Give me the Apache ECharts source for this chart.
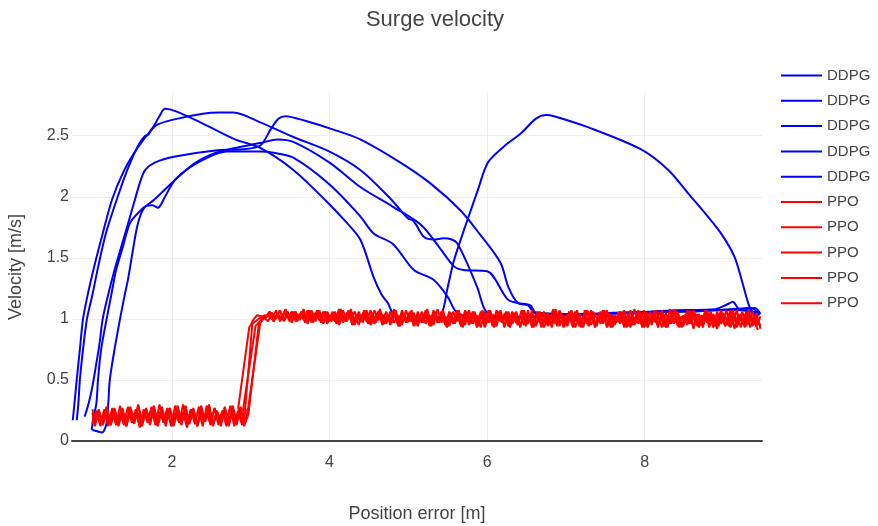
<!DOCTYPE html>
<html>
<head>
<meta charset="utf-8">
<title>Surge velocity</title>
<script src="https://cdn.jsdelivr.net/npm/echarts@6/dist/echarts.min.js"></script>
<style>
  html, body { margin: 0; padding: 0; background: #fff; }
  #chart { width: 878px; height: 526px; }
</style>
</head>
<body>
<div id="chart"></div>
<script>
// DDPG runs, [position error, velocity]
const ddpg1 = [[0.74,0.17],[0.76,0.30],[0.79,0.50],[0.83,0.75],[0.87,1.00],[0.93,1.20],[1.02,1.45],[1.12,1.70],[1.24,1.98],[1.38,2.20],[1.52,2.36],[1.64,2.47],[1.75,2.56],[1.84,2.66],[1.91,2.72],[2.05,2.70],[2.36,2.61],[2.80,2.47],[3.12,2.40],[3.54,2.22],[3.95,1.97],[4.20,1.80],[4.39,1.65],[4.56,1.34],[4.66,1.20],[4.74,1.13],[4.80,1.05],[4.90,1.00],[5.20,0.98],[5.41,1.03],[5.50,1.26],[5.58,1.48],[5.75,1.81],[5.88,2.05],[6.01,2.28],[6.21,2.41],[6.43,2.52],[6.62,2.64],[6.75,2.67],[6.85,2.66],[7.28,2.57],[7.95,2.39],[8.30,2.22],[8.55,2.03],[8.80,1.84],[8.97,1.70],[9.14,1.51],[9.24,1.30],[9.33,1.10],[9.40,1.03]];
const ddpg2 = [[0.79,0.17],[0.81,0.30],[0.83,0.50],[0.87,0.75],[0.92,1.00],[0.99,1.20],[1.06,1.42],[1.16,1.70],[1.31,2.00],[1.45,2.25],[1.58,2.43],[1.66,2.50],[1.70,2.51],[1.74,2.55],[1.81,2.59],[2.00,2.63],[2.39,2.68],[2.60,2.69],[2.78,2.69],[3.12,2.61],[3.54,2.49],[4.00,2.37],[4.39,2.22],[4.75,2.00],[5.00,1.82],[5.05,1.81],[5.10,1.77],[5.20,1.67],[5.32,1.65],[5.45,1.66],[5.55,1.65],[5.62,1.62],[5.75,1.45],[5.88,1.25],[6.00,1.05],[6.30,1.01],[7.00,1.03],[7.80,1.05],[8.60,1.06],[9.10,1.08],[9.35,1.09],[9.46,1.03]];
const ddpg3 = [[0.89,0.20],[0.92,0.26],[0.95,0.33],[0.99,0.45],[1.03,0.60],[1.08,0.80],[1.12,1.00],[1.19,1.20],[1.27,1.40],[1.36,1.60],[1.45,1.80],[1.53,1.98],[1.60,2.13],[1.66,2.22],[1.78,2.28],[2.04,2.33],[2.55,2.38],[2.90,2.39],[3.12,2.42],[3.25,2.55],[3.35,2.64],[3.44,2.66],[3.70,2.62],[4.05,2.55],[4.39,2.47],[4.90,2.28],[5.28,2.11],[5.66,1.89],[5.90,1.70],[6.17,1.46],[6.27,1.26],[6.39,1.13],[6.52,1.11],[6.60,1.05],[7.00,1.03],[7.60,1.05],[8.20,1.06],[8.80,1.07],[9.20,1.08],[9.40,1.09],[9.47,1.04]];
const ddpg4 = [[0.98,0.09],[1.00,0.18],[1.04,0.31],[1.06,0.50],[1.10,0.75],[1.17,1.00],[1.23,1.20],[1.29,1.40],[1.38,1.60],[1.47,1.79],[1.62,1.90],[1.78,1.98],[2.04,2.14],[2.30,2.28],[2.55,2.36],[2.80,2.40],[3.12,2.44],[3.34,2.47],[3.54,2.45],[4.00,2.28],[4.39,2.08],[4.80,1.92],[5.16,1.77],[5.40,1.58],[5.58,1.43],[5.70,1.40],[6.00,1.39],[6.26,1.16],[6.39,1.13],[6.55,1.11],[6.62,1.05],[7.20,1.04],[7.80,1.05],[8.40,1.07],[8.90,1.08],[9.05,1.12],[9.12,1.14],[9.20,1.08],[9.45,1.05]];
const ddpg5 = [[0.99,0.09],[1.05,0.08],[1.11,0.07],[1.17,0.15],[1.19,0.30],[1.21,0.50],[1.27,0.75],[1.34,1.00],[1.40,1.20],[1.44,1.32],[1.50,1.55],[1.57,1.79],[1.66,1.92],[1.75,1.93],[1.82,1.91],[1.91,2.00],[2.04,2.14],[2.30,2.27],[2.70,2.37],[3.12,2.37],[3.29,2.36],[3.54,2.32],[4.00,2.10],[4.39,1.84],[4.56,1.70],[4.81,1.61],[5.07,1.40],[5.32,1.32],[5.50,1.18],[5.62,1.05],[5.90,1.01],[6.50,1.02],[7.30,1.04],[8.00,1.05],[8.70,1.07],[9.30,1.07],[9.45,1.03]];

// PPO runs: two staggered sets of position error samples, then each run's velocities
const ppoHighXA = [
  9.47,9.42,9.37,9.32,9.27,9.22,9.17,9.12,9.07,9.02,8.97,8.92,8.87,8.82,8.77,8.72,8.67,8.62,8.57,8.52,
  8.47,8.42,8.37,8.32,8.27,8.22,8.17,8.12,8.07,8.02,7.97,7.92,7.87,7.82,7.77,7.72,7.67,7.62,7.57,7.52,
  7.47,7.42,7.37,7.32,7.27,7.22,7.17,7.12,7.07,7.02,6.97,6.92,6.87,6.82,6.77,6.72,6.67,6.62,6.57,6.52,
  6.47,6.42,6.37,6.32,6.27,6.22,6.17,6.12,6.07,6.02,5.97,5.92,5.87,5.82,5.77,5.72,5.67,5.62,5.57,5.52,
  5.47,5.42,5.37,5.32,5.27,5.22,5.17,5.12,5.07,5.02,4.97,4.92,4.87,4.82,4.77,4.72,4.67,4.62,4.57,4.52,
  4.47,4.42,4.37,4.32,4.27,4.22,4.17,4.12,4.07,4.02,3.97,3.92,3.87,3.82,3.77,3.72,3.67,3.62,3.57,3.52,
  3.47,3.42,3.37,3.32,3.27,3.22
];
const ppoHighXB = [
  9.44,9.39,9.34,9.29,9.24,9.19,9.14,9.09,9.04,8.99,8.94,8.89,8.84,8.79,8.74,8.69,8.64,8.59,8.54,8.49,
  8.44,8.39,8.34,8.29,8.24,8.19,8.14,8.09,8.04,7.99,7.94,7.89,7.84,7.79,7.74,7.69,7.64,7.59,7.54,7.49,
  7.44,7.39,7.34,7.29,7.24,7.19,7.14,7.09,7.04,6.99,6.94,6.89,6.84,6.79,6.74,6.69,6.64,6.59,6.54,6.49,
  6.44,6.39,6.34,6.29,6.24,6.19,6.14,6.09,6.04,5.99,5.94,5.89,5.84,5.79,5.74,5.69,5.64,5.59,5.54,5.49,
  5.44,5.39,5.34,5.29,5.24,5.19,5.14,5.09,5.04,4.99,4.94,4.89,4.84,4.79,4.74,4.69,4.64,4.59,4.54,4.49,
  4.44,4.39,4.34,4.29,4.24,4.19,4.14,4.09,4.04,3.99,3.94,3.89,3.84,3.79,3.74,3.69,3.64,3.59,3.54,3.49,
  3.44,3.39,3.34,3.29,3.24,3.19
];
const ppoLowXA = [
  2.92,2.87,2.82,2.77,2.72,2.67,2.62,2.57,2.52,2.47,2.42,2.37,2.32,2.27,2.22,2.17,2.12,2.07,2.02,1.97,
  1.92,1.87,1.82,1.77,1.72,1.67,1.62,1.57,1.52,1.47,1.42,1.37,1.32,1.27,1.22,1.17,1.12,1.07,1.02,0.99
];
const ppoLowXB = [
  2.94,2.89,2.84,2.79,2.74,2.69,2.64,2.59,2.54,2.49,2.44,2.39,2.34,2.29,2.24,2.19,2.14,2.09,2.04,1.99,
  1.94,1.89,1.84,1.79,1.74,1.69,1.64,1.59,1.54,1.49,1.44,1.39,1.34,1.29,1.24,1.19,1.14,1.09,1.04,0.99
];

const ppoHigh1 = [
  0.92,1.05,0.94,1.07,0.96,1.02,0.93,1.06,0.98,0.94,1.07,0.97,1.04,0.93,
  1.06,0.95,1.03,0.92,1.07,0.99,0.94,1.05,0.96,1.08,0.93,1.02,0.95,1.06,
  0.97,1.04,0.93,1.07,0.95,1.01,0.94,1.06,0.98,1.03,0.93,1.07,0.96,1.05,
  0.94,1.02,1.07,0.95,1.04,0.93,1.06,0.97,1.03,0.94,1.08,0.96,1.01,0.93,
  1.06,0.95,1.04,0.97,1.07,0.94,1.02,0.96,1.06,0.93,1.05,0.98,0.94,1.07,
  0.96,1.03,0.93,1.06,0.99,1.04,0.94,1.07,0.96,1.02,0.95,1.06,0.97,1.05,
  0.94,1.07,0.98,1.03,0.95,1.06,0.97,1.04,0.94,1.08,0.99,1.02,0.95,1.06,
  1.00,0.95,1.07,0.97,1.04,0.96,1.08,0.98,1.03,0.95,1.06,0.99,1.05,0.97,
  1.07,0.98,1.04,0.96,1.08,1.00,1.05,0.97,1.06,0.99,1.07,1.01,1.04,0.98
];
const ppoHigh2 = [
  0.95,1.03,0.93,1.06,0.97,1.04,0.92,1.07,0.99,1.05,0.94,1.02,0.96,1.07,
  0.93,1.04,0.98,1.06,0.95,1.03,0.93,1.08,0.96,1.01,0.94,1.06,0.97,1.04,
  0.93,1.07,0.99,1.02,0.95,1.05,0.93,1.06,0.97,1.03,0.94,1.07,0.96,1.02,
  1.06,0.94,1.04,0.97,1.07,0.93,1.03,0.96,1.05,0.94,1.08,0.98,1.02,0.95,
  1.06,0.93,1.04,0.97,1.07,0.95,1.01,0.94,1.06,0.98,1.03,0.93,1.07,0.96,
  1.04,0.95,1.06,0.98,1.02,0.94,1.07,0.96,1.05,0.93,1.03,0.97,1.06,0.95,
  1.08,0.97,1.02,0.95,1.06,0.99,1.04,0.94,1.07,0.97,1.03,0.96,1.06,0.98,
  1.05,0.96,1.07,0.99,1.03,0.95,1.06,0.98,1.08,0.96,1.04,1.00,1.06,0.97,
  1.05,0.99,1.07,0.97,1.04,1.01,1.06,0.98,1.08,1.00,1.03,0.98,1.06,1.02
];
const ppoHigh3 = [
  1.02,0.94,1.06,0.96,1.03,0.93,1.07,0.97,1.04,0.95,1.06,0.92,1.02,0.98,
  1.07,0.95,1.04,0.93,1.06,0.97,1.02,0.94,1.07,0.96,1.05,0.93,1.03,0.98,
  1.06,0.94,1.04,0.96,1.08,0.93,1.02,0.97,1.06,0.95,1.04,0.93,1.07,0.99,
  1.03,0.95,1.06,0.93,1.04,0.98,1.07,0.94,1.02,0.96,1.06,0.93,1.05,0.97,
  1.03,0.94,1.07,0.96,1.04,0.93,1.06,0.98,1.02,0.95,1.07,0.94,1.04,0.97,
  1.06,0.93,1.03,0.96,1.07,0.95,1.04,0.98,1.06,0.94,1.02,0.97,1.08,0.95,
  1.03,0.96,1.06,0.94,1.05,0.98,1.07,0.95,1.03,0.97,1.06,0.96,1.04,0.99,
  1.07,0.96,1.04,0.98,1.06,0.95,1.05,0.99,1.07,0.97,1.03,0.98,1.06,0.96,
  1.04,1.00,1.07,0.98,1.05,0.99,1.06,1.01,1.04,0.98,1.07,1.00,1.05,1.02
];
const ppoHigh4 = [
  0.91,0.97,1.04,0.94,1.06,0.96,1.02,0.93,1.07,0.98,1.04,0.94,1.06,0.97,
  1.03,0.93,1.05,0.96,1.07,0.94,1.02,0.97,1.06,0.93,1.04,0.98,1.07,0.95,
  1.03,0.93,1.06,0.97,1.04,0.94,1.07,0.96,1.02,0.93,1.05,0.98,1.06,0.94,
  1.03,0.96,1.07,0.93,1.04,0.97,1.06,0.94,1.02,0.98,1.07,0.95,1.04,0.93,
  1.06,0.97,1.03,0.94,1.07,0.96,1.05,0.93,1.02,0.97,1.06,0.95,1.04,0.98,
  1.07,0.94,1.03,0.96,1.06,0.93,1.05,0.98,1.02,0.95,1.07,0.97,1.04,0.94,
  1.06,0.98,1.03,0.95,1.07,0.97,1.04,0.94,1.06,0.99,1.02,0.96,1.08,0.97,
  1.04,0.96,1.06,0.98,1.03,0.95,1.07,0.99,1.05,0.96,1.06,0.98,1.04,1.00,
  1.07,0.97,1.05,1.00,1.06,0.98,1.04,1.01,1.07,0.99,1.05,0.98,1.06,1.01
];
const ppoHigh5 = [
  0.94,1.03,0.96,1.06,0.93,1.04,0.97,1.07,0.94,1.02,0.96,1.06,0.93,1.05,
  0.98,1.03,0.94,1.07,0.96,1.04,0.93,1.06,0.97,1.02,0.95,1.07,0.93,1.04,
  0.97,1.06,0.94,1.03,0.96,1.07,0.93,1.05,0.98,1.02,0.94,1.06,0.97,1.04,
  0.93,1.07,0.96,1.02,0.94,1.06,0.98,1.04,0.93,1.07,0.96,1.03,0.94,1.06,
  0.97,1.04,0.93,1.07,0.95,1.02,0.97,1.06,0.94,1.04,0.98,1.07,0.95,1.03,
  0.93,1.06,0.97,1.04,0.95,1.07,0.94,1.03,0.98,1.06,0.95,1.04,0.97,1.07,
  0.95,1.03,0.97,1.06,0.94,1.05,0.98,1.07,0.96,1.03,0.95,1.06,0.99,1.04,
  0.96,1.07,0.98,1.04,0.95,1.06,1.00,1.05,0.97,1.08,0.98,1.03,0.96,1.06,
  0.99,1.05,0.97,1.07,1.00,1.04,0.98,1.06,1.01,1.05,0.98,1.07,1.00,1.03
];

// the drop from cruise speed to approach speed
const ppoStep1 = [[3.15,1.02],[3.08,1.03],[3.04,1.00],[2.98,0.93],[2.84,0.27]];
const ppoStep2 = [[3.14,1.00],[3.06,0.94],[2.90,0.25]];
const ppoStep3 = [[3.17,1.03],[3.12,0.97],[2.96,0.24]];
const ppoStep4 = [[3.12,1.01],[3.02,0.96],[2.93,0.28]];
const ppoStep5 = [[3.16,1.00],[3.10,0.95],[2.97,0.22]];

const ppoLow1 = [
  0.12,0.27,0.15,0.25,0.13,0.28,0.17,0.24,0.12,0.26,0.16,0.29,0.13,0.23,0.15,0.28,0.14,0.25,0.12,0.27,
  0.16,0.24,0.13,0.29,0.15,0.26,0.12,0.23,0.17,0.28,0.14,0.25,0.12,0.27,0.15,0.24,0.13,0.26,0.16,0.22
];
const ppoLow2 = [
  0.26,0.13,0.24,0.16,0.29,0.12,0.25,0.15,0.27,0.13,0.23,0.17,0.28,0.14,0.26,0.11,0.24,0.16,0.29,0.13,
  0.25,0.15,0.30,0.13,0.27,0.16,0.24,0.12,0.26,0.15,0.28,0.13,0.23,0.16,0.27,0.12,0.25,0.14,0.24,0.15
];
const ppoLow3 = [
  0.15,0.28,0.13,0.24,0.17,0.27,0.12,0.25,0.14,0.30,0.16,0.23,0.12,0.26,0.15,0.29,0.13,0.24,0.16,0.27,
  0.12,0.25,0.15,0.28,0.13,0.26,0.17,0.29,0.14,0.24,0.12,0.27,0.16,0.25,0.13,0.28,0.15,0.23,0.14,0.26
];
const ppoLow4 = [
  0.27,0.14,0.25,0.12,0.28,0.16,0.24,0.13,0.27,0.15,0.29,0.12,0.25,0.17,0.26,0.13,0.30,0.15,0.23,0.12,
  0.27,0.16,0.24,0.13,0.28,0.15,0.26,0.11,0.25,0.17,0.27,0.14,0.29,0.13,0.24,0.16,0.26,0.12,0.25,0.14
];
const ppoLow5 = [
  0.13,0.25,0.16,0.29,0.12,0.26,0.15,0.24,0.13,0.28,0.17,0.25,0.12,0.27,0.14,0.23,0.16,0.29,0.13,0.26,
  0.15,0.28,0.12,0.24,0.16,0.27,0.13,0.30,0.15,0.25,0.12,0.26,0.17,0.24,0.13,0.28,0.15,0.25,0.12,0.23
];

const zip = (xs, ys) => xs.slice(0, ys.length).map((x, i) => [x, ys[i]]);
const ppoRun = (hx, hy, step, lx, ly) => zip(hx, hy).concat(step, zip(lx, ly));

const ddpgRuns = [ddpg1, ddpg2, ddpg3, ddpg4, ddpg5];
const ppoRuns = [
  ppoRun(ppoHighXA, ppoHigh1, ppoStep1, ppoLowXA, ppoLow1),
  ppoRun(ppoHighXB, ppoHigh2, ppoStep2, ppoLowXB, ppoLow2),
  ppoRun(ppoHighXA, ppoHigh3, ppoStep3, ppoLowXA, ppoLow3),
  ppoRun(ppoHighXB, ppoHigh4, ppoStep4, ppoLowXB, ppoLow4),
  ppoRun(ppoHighXA, ppoHigh5, ppoStep5, ppoLowXA, ppoLow5)
];

const FONT = '"Liberation Sans", Arial, sans-serif';
const TEXT = '#444';

// legend merges equal names, so pad each one with spaces and trim on display
const mkSeries = (runs, label, color, smooth) => runs.map((data, i) => ({
  name: label + ' '.repeat(i),
  type: 'line',
  data,
  symbol: 'none',
  showSymbol: false,
  smooth,
  lineStyle: { color, width: 2 },
  itemStyle: { color },
  emphasis: { disabled: true }
}));

const series = mkSeries(ddpgRuns, 'DDPG', '#0000ff', 0.3).concat(mkSeries(ppoRuns, 'PPO', '#ff0000', false));

const chart = echarts.init(document.getElementById('chart'), null, { renderer: 'canvas' });
chart.setOption({
  animation: false,
  backgroundColor: '#fff',
  title: {
    text: 'Surge velocity',
    left: 430,
    textAlign: 'center',
    top: 4,
    textStyle: { fontFamily: FONT, fontSize: 22, fontWeight: 'normal', color: TEXT }
  },
  legend: {
    orient: 'vertical',
    left: 776,
    top: 63,
    icon: 'rect',
    itemWidth: 41,
    itemHeight: 2,
    itemGap: 10.3,
    data: series.map(s => s.name),
    formatter: n => n.trim(),
    textStyle: { fontFamily: FONT, fontSize: 15, color: TEXT }
  },
  // keep the plot box fixed; do not let labels push it around
  grid: { left: 72, top: 93, width: 690, height: 348, containLabel: false, outerBoundsMode: 'none' },
  xAxis: {
    type: 'value',
    min: 0.73,
    max: 9.49,
    name: 'Position error [m]',
    nameLocation: 'middle',
    nameGap: 64,
    nameTextStyle: { fontFamily: FONT, fontSize: 18, color: TEXT },
    axisLine: { show: true, lineStyle: { color: '#444', width: 2 } },
    axisTick: { show: false },
    axisLabel: { margin: 14, fontFamily: FONT, fontSize: 16, color: TEXT, showMinLabel: false, showMaxLabel: false },
    splitLine: { show: true, showMinLine: false, showMaxLine: false, lineStyle: { color: '#eee', width: 1 } }
  },
  yAxis: {
    type: 'value',
    min: 0,
    max: 2.85,
    interval: 0.5,
    name: 'Velocity [m/s]',
    nameLocation: 'middle',
    nameGap: 47,
    nameRotate: 90,
    nameTextStyle: { fontFamily: FONT, fontSize: 18, color: TEXT },
    axisLine: { show: false },
    axisTick: { show: false },
    axisLabel: { margin: 3, fontFamily: FONT, fontSize: 16, color: TEXT, showMaxLabel: false },
    splitLine: { show: true, showMinLine: false, showMaxLine: false, lineStyle: { color: '#eee', width: 1 } }
  },
  series
});
</script>
</body>
</html>
